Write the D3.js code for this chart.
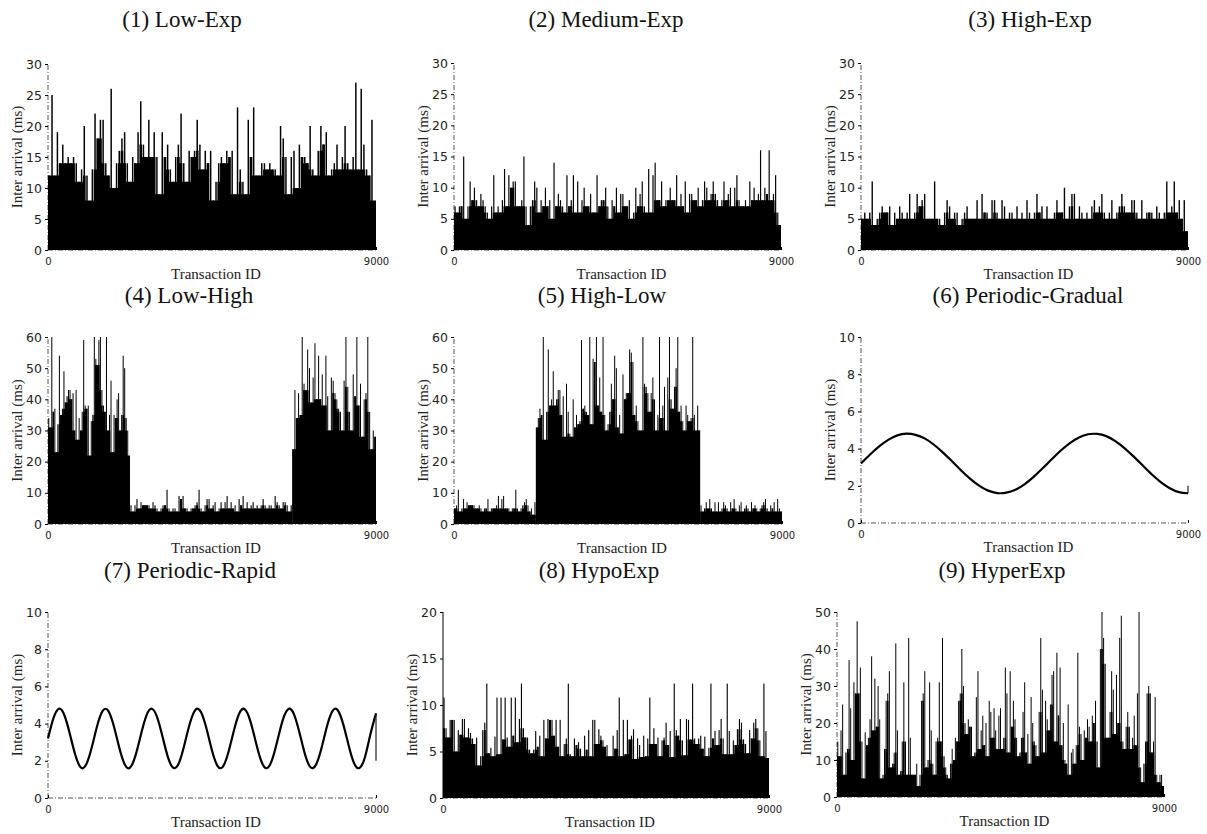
<!DOCTYPE html>
<html>
<head>
<meta charset="utf-8">
<script src="https://cdn.jsdelivr.net/npm/d3@7"></script>
<style>
  body { margin: 0; background: #fff; }
  svg { display: block; }
  .title { font-family: "Liberation Serif", "Times New Roman", serif; font-size: 23px; fill: #111; }
  .axis-title { font-family: "Liberation Serif", "Times New Roman", serif; font-size: 15px; fill: #222; font-weight: normal; }
  .y-axis text { font-family: "DejaVu Sans", sans-serif; font-size: 12.5px; fill: #222; }
  .x-axis text { font-family: "DejaVu Sans", sans-serif; font-size: 10px; fill: #222; }
</style>
</head>
<body>
<svg id="chart"></svg>
<script>
// ---- data ----
const X_MAX = 9000;
const xTicks = [0, 9000];

const expTicks = [0, 5, 10, 15, 20, 25, 30];
const shiftTicks = [0, 10, 20, 30, 40, 50, 60];
const periodicTicks = [0, 2, 4, 6, 8, 10];
const hypoTicks = [0, 5, 10, 15, 20];
const hyperTicks = [0, 10, 20, 30, 40, 50];

// spike panels: local maxima per bin, plus the level that is always solid black
const lowExpPeaks = [12,25,12,19,14,17,14,15,14,15,14,11,13,20,12,6,13,22,18,21,21,14,12,26,10,14,16,18,19,14,11,15,14,19,24,17,15,21,15,19,15,9,19,15,17,13,11,15,17,22,14,11,16,15,16,21,17,13,16,14,16,8,11,14,15,14,16,15,16,9,23,13,11,9,21,15,23,12,12,14,14,13,14,13,13,12,20,18,15,9,15,16,10,17,15,15,14,20,13,12,16,20,17,19,12,13,14,17,13,15,20,14,13,15,27,13,26,17,13,12,21,7];
const lowExpFloor = [8];

const mediumExpPeaks = [7,6,7,7,15,5,7,11,8,10,8,7,9,8,7,6,5,7,12,6,7,6,8,13,7,12,10,11,11,7,7,8,15,7,4,7,8,11,10,6,8,7,10,7,8,5,14,7,9,8,7,6,12,7,8,12,6,11,6,8,10,7,7,9,6,6,12,7,8,8,10,7,5,8,7,10,6,9,9,7,7,8,5,6,10,7,9,11,7,6,13,6,12,14,8,8,11,7,8,8,10,8,8,12,7,9,7,11,6,9,9,8,8,10,7,8,11,10,8,9,11,9,8,7,8,11,8,9,10,7,10,12,8,7,7,8,7,11,8,10,8,9,16,8,10,9,16,8,9,12,6,4];
const mediumExpFloor = [4];

const highExpPeaks = [5,6,5,6,11,4,5,6,7,6,6,7,4,6,5,7,6,5,6,9,5,6,9,7,8,9,5,5,5,11,5,5,4,6,8,7,5,6,6,4,5,6,7,5,5,5,8,5,9,6,6,5,8,8,6,5,8,7,5,6,6,5,7,5,6,5,8,6,5,6,9,6,7,5,7,5,5,6,8,6,6,10,5,7,9,9,5,7,6,5,6,5,7,8,6,7,9,6,5,6,8,5,6,7,9,7,6,6,8,8,6,5,8,5,6,6,6,5,7,6,5,6,11,6,7,11,6,8,5,8,3];
const highExpFloor = [3];

const lowHighBreaks = [0, 2250, 6700, 9000];
const lowHighFloors = [22, 3, 22];
const lowHighA = [34,31,60,36,37,23,32,54,35,37,49,39,41,43,43,40,42,30,43,27,34,30,36,59,38,37,38,18,33,35,60,53,51,59,60,43,38,36,60,30,35,46,23,35,34,40,42,30,35,54,50,34,30,20];
const lowHighB = [6,4,6,8,5,7,6,6,6,6,5,7,6,5,4,5,6,6,11,5,4,5,5,4,9,8,9,5,5,4,5,5,6,7,11,5,4,6,8,8,5,6,7,4,5,7,5,7,9,5,7,5,6,4,8,6,9,5,7,5,6,7,5,6,5,6,8,6,5,6,6,5,9,7,6,5,7,7,6,4,6];
const lowHighC = [24,43,34,42,35,60,45,43,56,50,39,47,58,40,54,40,48,38,54,41,30,47,46,42,40,37,36,30,46,60,44,36,30,48,41,60,38,45,28,40,42,60,36,24,30,28];

const highLowBreaks = [0, 2245, 6755, 9000];
const highLowFloors = [3, 24, 3];
const highLowA = [5,6,11,4,5,8,5,7,6,6,6,6,5,5,6,5,4,5,5,8,4,5,5,5,6,9,5,8,9,5,5,5,4,5,5,11,5,4,5,6,7,8,6,4,5,3,7];
const highLowB = [31,34,37,35,60,27,36,56,38,40,49,38,40,43,43,35,41,28,45,36,29,28,40,31,35,32,33,59,37,38,36,35,60,32,53,52,60,38,47,36,60,35,30,32,36,45,40,54,50,31,35,29,48,40,42,42,56,55,52,35,38,33,30,30,60,45,44,42,36,42,47,40,30,35,60,34,38,44,30,47,60,40,37,44,50,60,36,38,33,30,38,35,33,34,60,35,30,38,30];
const highLowC = [6,4,5,7,5,8,5,4,7,4,7,4,5,7,6,5,4,7,5,8,5,4,6,7,4,5,6,5,4,7,5,6,5,4,5,6,7,8,5,4,6,5,7,4,8,5,4];

const hypoPeaks = [
  10.8,7.5,6.5,8.4,8.4,8.4,5.0,7.3,6.8,8.5, 8.5,6.5,7.5,7.0,6.4,5.8,6.5,3.5,4.5,7.3,
  8.1,12.3,4.8,5.4,4.5,6.6,10.8,4.7,10.8,6.3, 10.8,6.5,5.5,10.8,6.7,10.8,6.0,8.5,12.3,7.5,
  6.5,6.5,5.2,4.8,5.2,7.2,5.5,6.7,4.5,8.4, 6.4,8.5,8.4,8.4,6.7,8.4,5.5,8.4,4.5,5.8,
  6.4,12.3,4.7,4.5,6.4,5.7,6.0,5.3,4.5,6.7, 5.2,7.3,4.5,8.4,8.4,5.8,7.4,6.7,6.2,5.5,
  5.7,4.5,4.5,6.7,5.3,7.3,10.8,4.5,8.4,4.7, 8.4,6.3,6.7,7.4,4.2,6.4,5.7,4.4,6.7,4.5,
  6.4,10.8,5.8,7.5,5.8,6.5,4.5,6.2,6.5,8.1, 5.7,7.2,4.4,12.3,7.3,6.7,8.5,6.2,4.6,8.5,
  8.4,6.3,12.3,6.4,5.8,6.4,6.7,5.3,6.6,4.5, 5.4,12.3,6.4,7.2,5.7,7.3,8.5,6.4,4.7,12.3,
  7.2,4.7,6.2,5.7,7.4,8.5,8.1,6.3,5.8,4.8, 7.3,6.4,8.1,8.5,7.5,6.2,4.5,12.3,7.2,4.3
];
const hypoFloor = [3.5];

const hyperPeaks = [15,11,18,25,6,12,13,37,24,10,31,28,47.5,28,35,15,5,17.5,14,16,21,38,18,32,19,30,21,5,6,13,26,28,34,8,9,12,41.5,18,6,7,15,31,15,6,43,16,6,6,6,9,3,6,26,28,34,8,10,31,18,9,6,15,16,31,15,43,11,8,6,5,9,13,10,16,15,26,28,40,30,20,17,21,19,19,11,12,27,34,13,18,22,14,20,11,26,23,16,24,18,13,22,24,13,16,35,28,12,34,19,26,21,16,11,12,16,23,31,12,17,9,27,20,15,14,11,23,43,29,12,26,21,18,25,33,34,15,39,22,35,14,20,10,9,25,6,12,13,9,14,39,19,17,10,18,16,21,19,15,22,20,26,15,8,40,50,43,36,16,16,23,34,29,17,33,20,43,49,15,13,19,23,19,13,16,22,14,28,50,8,4,9,15,28,30,28,12,15,27,6,4,6,6,1];
const hyperFloor = [3];

// periodic panels: values sampled every `step` transactions
const gradualStep = 250;
const gradualValues = [3.20,3.68,4.12,4.47,4.71,4.80,4.74,4.55,4.22,3.80,3.33,2.84,2.39,2.01,1.74,1.61,1.63,1.79,2.08,2.48,2.94,3.43,3.90,4.30,4.60,4.77,4.79,4.67,4.40,4.03,3.58,3.10,2.62,2.20,1.87,1.66,1.60];
const gradualTail = [1.60, 2.00];

const rapidStep = 150;
const rapidValues = [3.20,4.29,4.80,4.45,3.44,2.31,1.64,1.81,2.71,3.88,4.68,4.70,3.91,2.75,1.83,1.63,2.28,3.41,4.43,4.80,4.31,3.24,2.14,1.61,1.92,2.92,4.06,4.75,4.61,3.72,2.55,1.73,1.69,2.46,3.62,4.56,4.77,4.15,3.02,1.99,1.60,2.06,3.13,4.24,4.79,4.50,3.51,2.36,1.66,1.78,2.65,3.82,4.66,4.72,3.97,2.82,1.86,1.62,2.22,3.45,4.55];
const rapidTail = [4.55, 2.00];

// ---- layout ----
const panels = [
  { title: "(1) Low-Exp", tx: 182, ty: 27, box: [48, 376, 64, 250], yMax: 30, yTicks: expTicks,
    segments: [{ from: 0, to: X_MAX, peaks: lowExpPeaks, floor: lowExpFloor[0] }] },
  { title: "(2) Medium-Exp", tx: 606, ty: 27, box: [454, 781, 63, 250], yMax: 30, yTicks: expTicks,
    segments: [{ from: 0, to: X_MAX, peaks: mediumExpPeaks, floor: mediumExpFloor[0] }] },
  { title: "(3) High-Exp", tx: 1030, ty: 27, box: [861, 1188, 63, 250], yMax: 30, yTicks: expTicks,
    segments: [{ from: 0, to: X_MAX, peaks: highExpPeaks, floor: highExpFloor[0] }] },
  { title: "(4) Low-High", tx: 189, ty: 303, box: [48, 376, 337, 524], yMax: 60, yTicks: shiftTicks,
    segments: [lowHighA, lowHighB, lowHighC].map((p, i) => ({
      from: lowHighBreaks[i], to: lowHighBreaks[i + 1], peaks: p, floor: lowHighFloors[i] })) },
  { title: "(5) High-Low", tx: 602, ty: 303, box: [454, 782, 337, 524], yMax: 60, yTicks: shiftTicks,
    segments: [highLowA, highLowB, highLowC].map((p, i) => ({
      from: highLowBreaks[i], to: highLowBreaks[i + 1], peaks: p, floor: highLowFloors[i] })) },
  { title: "(6) Periodic-Gradual", tx: 1028, ty: 303, box: [861, 1188, 337, 523], yMax: 10, yTicks: periodicTicks,
    segments: [], line: { step: gradualStep, values: gradualValues, tail: gradualTail } },
  { title: "(7) Periodic-Rapid", tx: 190, ty: 578, box: [48, 376, 612, 798], yMax: 10, yTicks: periodicTicks,
    segments: [], line: { step: rapidStep, values: rapidValues, tail: rapidTail } },
  { title: "(8) HypoExp", tx: 599, ty: 578, box: [443, 769, 612, 798], yMax: 20, yTicks: hypoTicks, solidAxis: true,
    segments: [{ from: 0, to: X_MAX, peaks: hypoPeaks, floor: hypoFloor[0] }] },
  { title: "(9) HyperExp", tx: 1002, ty: 578, box: [837, 1164, 612, 797], yMax: 50, yTicks: hyperTicks,
    segments: [{ from: 0, to: X_MAX, peaks: hyperPeaks, floor: hyperFloor[0] }] }
];

const svg = d3.select("#chart").attr("width", 1207).attr("height", 834);

function drawPanel(p) {
  const [left, right, top, bottom] = p.box;
  const x = d3.scaleLinear().domain([0, X_MAX]).range([left, right]);
  const y = d3.scaleLinear().domain([0, p.yMax]).range([bottom, top]).clamp(true);
  const g = svg.append("g");

  // dash-dot axis lines
  g.append("line")
    .attr("x1", left).attr("x2", left).attr("y1", y(0)).attr("y2", y(p.yMax))
    .attr("stroke", p.solidAxis ? "#000" : "#555").attr("stroke-width", 1)
    .attr("stroke-dasharray", p.solidAxis ? null : "5,2,1,2");
  g.append("line")
    .attr("x1", left).attr("x2", right).attr("y1", y(0)).attr("y2", y(0))
    .attr("stroke", "#555").attr("stroke-width", 1).attr("stroke-dasharray", "5,2,1,2");

  // spike series: dense part (what neighbouring bins share) + thin spikes
  p.segments.forEach((s) => {
    const n = s.peaks.length;
    const step = (s.to - s.from) / n;
    const dense = s.peaks.map((v, i) =>
      Math.max(s.floor, d3.min([s.peaks[i - 1], v, s.peaks[i + 1]].filter((d) => d !== undefined))));
    const pts = dense.map((v, i) => [s.from + i * step, v]);
    pts.push([s.to, dense[n - 1]]);
    g.append("path")
      .datum(pts)
      .attr("fill", "#000")
      .attr("d", d3.area().curve(d3.curveStepAfter)
        .x((d) => x(d[0])).y0(y(0)).y1((d) => y(d[1])));

    const w = Math.max(1, Math.min(1.6, (x(step) - x(0)) * 0.55));
    g.selectAll(null)
      .data(s.peaks)
      .join("rect")
      .attr("x", (d, i) => x(s.from + (i + 0.5) * step) - w / 2)
      .attr("width", w)
      .attr("y", (d) => y(d))
      .attr("height", (d) => y(0) - y(d))
      .attr("fill", "#000");
  });

  // smooth periodic series
  if (p.line) {
    const pts = p.line.values.map((v, i) => [i * p.line.step, v]);
    g.append("path")
      .datum(pts)
      .attr("fill", "none")
      .attr("stroke", "#000")
      .attr("stroke-width", 2.2)
      .attr("d", d3.line().curve(d3.curveNatural).x((d) => x(d[0])).y((d) => y(d[1])));
    g.append("line")
      .attr("x1", x(X_MAX)).attr("x2", x(X_MAX))
      .attr("y1", y(p.line.tail[0])).attr("y2", y(p.line.tail[1]))
      .attr("stroke", "#222").attr("stroke-width", 1.2);
  }

  // axes
  const yAxisG = g.append("g")
    .attr("class", "y-axis")
    .attr("transform", `translate(${left},0)`)
    .call(d3.axisLeft(y).tickValues(p.yTicks).tickSize(3).tickPadding(3));
  yAxisG.select(".domain").remove();

  const xAxisG = g.append("g")
    .attr("class", "x-axis")
    .attr("transform", `translate(0,${y(0)})`)
    .call(d3.axisBottom(x).tickValues(xTicks).tickFormat(d3.format("d")).tickSize(-3).tickPadding(8));
  xAxisG.select(".domain").remove();

  // titles
  g.append("text")
    .attr("class", "title")
    .attr("x", p.tx).attr("y", p.ty)
    .attr("text-anchor", "middle")
    .text(p.title);

  g.append("text")
    .attr("class", "axis-title")
    .attr("x", (left + right) / 2 + 4).attr("y", bottom + 29)
    .attr("text-anchor", "middle")
    .text("Transaction ID");

  g.append("text")
    .attr("class", "axis-title")
    .attr("transform", `translate(${left - 26},${(top + bottom) / 2}) rotate(-90)`)
    .attr("text-anchor", "middle")
    .text("Inter arrival (ms)");
}

panels.forEach(drawPanel);
</script>
</body>
</html>
